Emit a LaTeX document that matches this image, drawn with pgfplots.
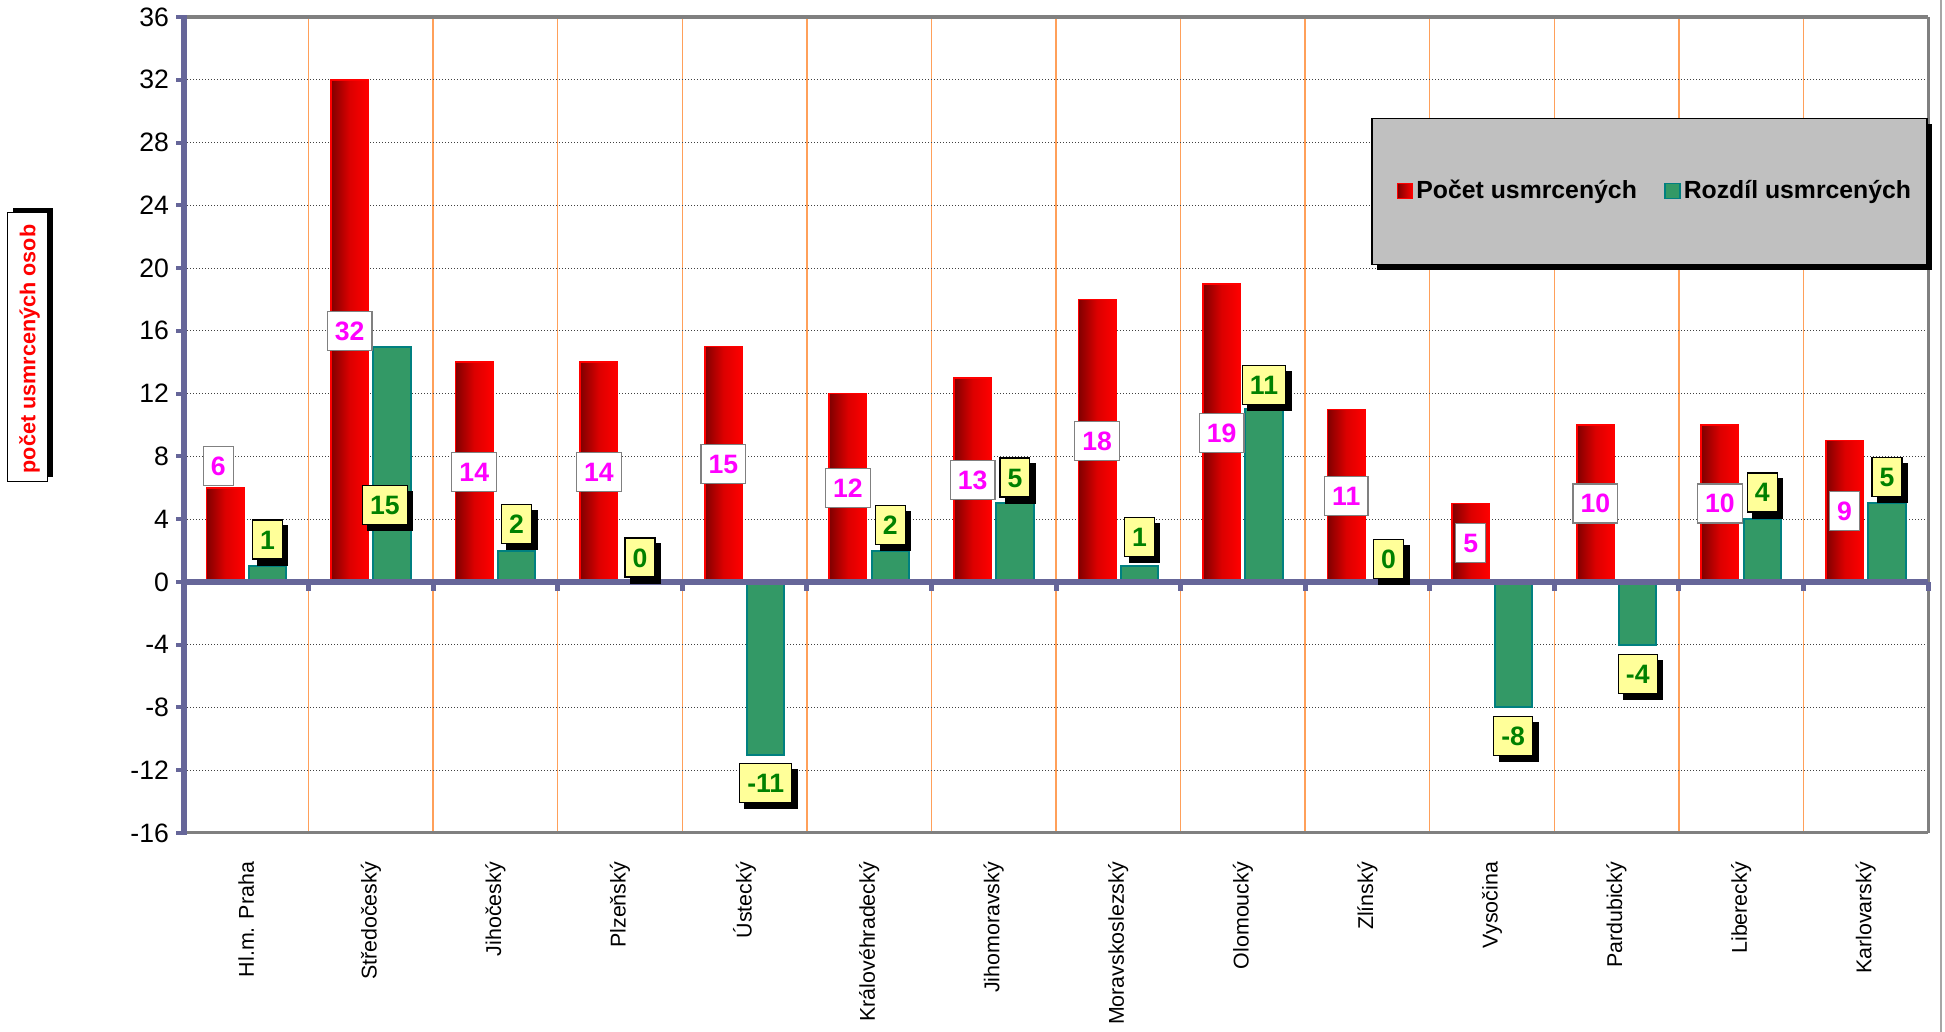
\documentclass[border=0pt]{standalone}
\usepackage{pgfplots}
\pgfplotsset{compat=1.18}
\usepackage{fontspec}
\setmainfont{Liberation Sans}
\usetikzlibrary{shadows}
\definecolor{axisblue}{RGB}{102,102,153}
\definecolor{gridorange}{RGB}{255,160,90}
\definecolor{darkred}{RGB}{128,0,0}
\definecolor{midred}{RGB}{220,0,0}
\definecolor{pured}{RGB}{255,0,0}
\definecolor{bargreen}{RGB}{51,153,102}
\definecolor{tealb}{RGB}{0,128,128}
\definecolor{lblyellow}{RGB}{255,255,153}
\definecolor{lblgreen}{RGB}{0,128,0}
\definecolor{lblmagenta}{RGB}{255,0,255}
\definecolor{legendgray}{RGB}{192,192,192}
\definecolor{bordergray}{RGB}{128,128,128}
\tikzset{
  redlbl/.style={draw=bordergray, line width=0.6pt, fill=white, text=lblmagenta,
    font=\fontsize{13.3}{15}\selectfont\bfseries, inner xsep=3.8pt, inner ysep=5pt,
    text height=9.5pt, text depth=0pt, anchor=center},
  greenlbl/.style={draw=black, line width=0.6pt, fill=lblyellow, text=lblgreen,
    font=\fontsize{13.3}{15}\selectfont\bfseries, inner xsep=3.8pt, inner ysep=5pt,
    text height=9.5pt, text depth=0pt, anchor=center,
    drop shadow={shadow xshift=2.7pt, shadow yshift=-3pt, fill=black, opacity=1}}
}
\pgfplotsset{redbar/.style={forget plot, ybar, bar width=0.3, bar shift=-0.17, draw=pured, line width=0.8pt,
  left color=darkred, right color=pured, middle color=midred}}
\begin{document}
\begin{tikzpicture}
\path[use as bounding box] (0,0) rectangle (972.5pt,516pt);
% y label box
\fill[black] (6.5pt,277.5pt) rectangle (26.5pt,412pt);
\draw[black, line width=0.5pt, fill=white] (3.5pt,275pt) rectangle (23.5pt,409.5pt);
\node[rotate=90, text=pured, font=\fontsize{10.8}{12}\selectfont\bfseries] at (14.75pt,341.5pt) {počet usmrcených osob};
\draw[gray!70, line width=0.6pt] (970.5pt,0pt) -- (970.5pt,516pt);
\begin{axis}[
  at={(92pt,99.5pt)}, anchor=south west,
  scale only axis, width=872pt, height=408pt,
  xmin=-0.5, xmax=13.5, ymin=-16, ymax=36,
  clip=false,
  axis line style={draw=none},
  xtick pos=bottom, ytick pos=left,
  xtick={0,...,13},
  xticklabels={Hl.m. Praha, Středočeský, Jihočeský, Plzeňský, Ústecký, Královéhradecký, Jihomoravský, Moravskoslezský, Olomoucký, Zlínský, Vysočina, Pardubický, Liberecký, Karlovarský},
  xticklabel style={font=\fontsize{10.7}{12}\selectfont, rotate=90, anchor=east},
  xticklabel shift=7pt,
  xtick style={draw=none},
  minor xtick={0.5,1.5,...,12.5},
  minor tick length=0pt,
  xminorgrids,
  minor grid style={draw=gridorange, line width=0.7pt, solid},
  ytick={-16,-12,...,36},
  yticklabels={-16,-12,-8,-4,0,4,8,12,16,20,24,28,32,36},
  yticklabel style={font=\fontsize{13.3}{15}\selectfont},
  tick align=outside,
  major tick length=4pt,
  ytick style={draw=axisblue, line width=2pt},
  ymajorgrids,
  major grid style={draw=black!75, line width=0.5pt, densely dotted},
  legend style={at={(0.8438,0.7868)}, anchor=center, draw=none, fill=none,
    font=\fontsize{12.4}{14}\selectfont\bfseries, inner sep=0pt,
    nodes={inner sep=1.5pt},
    /tikz/every even column/.append style={column sep=12pt}},
  legend columns=2,
]
\addplot[redbar] coordinates {(0,6)};
\addplot[redbar] coordinates {(1,32)};
\addplot[redbar] coordinates {(2,14)};
\addplot[redbar] coordinates {(3,14)};
\addplot[redbar] coordinates {(4,15)};
\addplot[redbar] coordinates {(5,12)};
\addplot[redbar] coordinates {(6,13)};
\addplot[redbar] coordinates {(7,18)};
\addplot[redbar] coordinates {(8,19)};
\addplot[redbar] coordinates {(9,11)};
\addplot[redbar] coordinates {(10,5)};
\addplot[redbar] coordinates {(11,10)};
\addplot[redbar] coordinates {(12,10)};
\addplot[redbar] coordinates {(13,9)};
\addlegendimage{legend image code/.code={\draw[draw=pured, left color=darkred, right color=pured, line width=0.7pt] (0pt,-3.75pt) rectangle (7.5pt,3.75pt);}}
\addlegendentry{Počet usmrcených}
\addplot[ybar, bar width=0.3, bar shift=0.17, draw=tealb, line width=1pt, fill=bargreen,
  legend image code/.code={\draw[draw=tealb, fill=bargreen, line width=0.9pt] (0pt,-3.75pt) rectangle (7.5pt,3.75pt);}]
  coordinates {(0,1) (1,15) (2,2) (3,0) (4,-11) (5,2) (6,5) (7,1) (8,11) (9,0) (10,-8) (11,-4) (12,4) (13,5)};
\addlegendentry{Rozdíl usmrcených}
% borders and axis lines
\draw[bordergray, line width=1.8pt] (-0.5,36) -- (13.5,36);
\draw[bordergray, line width=1.5pt] (13.5,36) -- (13.5,-16);
\draw[bordergray, line width=1.5pt] (-0.5,-16) -- (13.5,-16);
\draw[axisblue, line width=3pt] (-0.5,-16.1) -- (-0.5,36.1);
\draw[axisblue, line width=2.7pt] (-0.5,0) -- (13.5,0);
\draw[axisblue, line width=2.5pt] (0.5,0)--(0.5,-0.55) (1.5,0)--(1.5,-0.55) (2.5,0)--(2.5,-0.55) (3.5,0)--(3.5,-0.55) (4.5,0)--(4.5,-0.55) (5.5,0)--(5.5,-0.55) (6.5,0)--(6.5,-0.55) (7.5,0)--(7.5,-0.55) (8.5,0)--(8.5,-0.55) (9.5,0)--(9.5,-0.55) (10.5,0)--(10.5,-0.55) (11.5,0)--(11.5,-0.55) (12.5,0)--(12.5,-0.55) (13.5,0)--(13.5,-0.55);
% legend background
\fill[black] (9.077,29.15) rectangle (13.532,19.86);
\draw[black, line width=0.8pt, fill=legendgray] (9.037,29.53) rectangle (13.492,20.24);
% labels
\addplot[forget plot, only marks, mark=none, point meta=explicit symbolic,
  nodes near coords, every node near coord/.append style={redlbl}]
  coordinates {(-0.225,7.4)[6] (0.83,16)[32] (1.83,7)[14] (2.83,7)[14] (3.83,7.5)[15] (4.83,6)[12] (5.83,6.5)[13] (6.83,9)[18] (7.83,9.5)[19] (8.83,5.5)[11] (9.83,2.5)[5] (10.83,5)[10] (11.83,5)[10] (12.83,4.5)[9]};
\addplot[forget plot, only marks, mark=none, point meta=explicit symbolic,
  nodes near coords, every node near coord/.append style={greenlbl}]
  coordinates {(0.17,2.7)[1] (1.113,4.9)[15] (2.17,3.7)[2] (3.16,1.55)[0] (4.17,-12.8)[-11] (5.17,3.65)[2] (6.17,6.65)[5] (7.17,2.85)[1] (8.17,12.55)[11] (9.17,1.45)[0] (10.17,-9.8)[-8] (11.17,-5.85)[-4] (12.17,5.7)[4] (13.17,6.7)[5]};
\end{axis}
\end{tikzpicture}
\end{document}
